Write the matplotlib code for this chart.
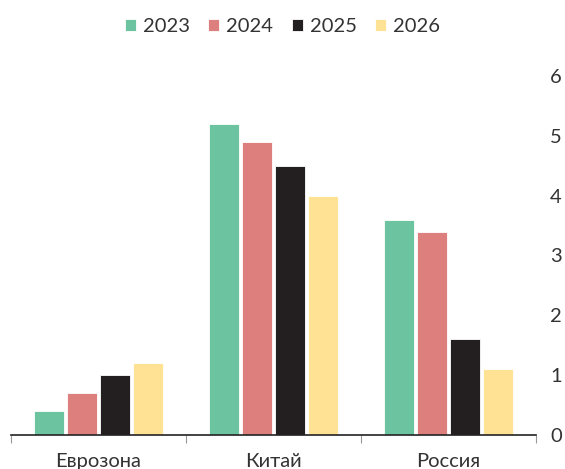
import matplotlib
matplotlib.use('Agg')
import matplotlib.pyplot as plt
import numpy as np

# Growth forecasts by region and year
regions = ['Еврозона', 'Китай', 'Россия']
years = ['2023', '2024', '2025', '2026']
values_2023 = [0.4, 5.2, 3.6]
values_2024 = [0.7, 4.9, 3.4]
values_2025 = [1.0, 4.5, 1.6]
values_2026 = [1.2, 4.0, 1.1]
yticks = [0, 1, 2, 3, 4, 5, 6]

colors = ['#6BC49F', '#DD7F7D', '#231F20', '#FFE294']
text_color = '#333333'

plt.rcParams['font.family'] = ['Lato', 'DejaVu Sans']

fig = plt.figure(figsize=(5.65, 4.69), dpi=100)
ax = fig.add_axes([0.0195, 0.0725, 0.9292, 0.7655])

series = [values_2023, values_2024, values_2025, values_2026]
x = np.arange(len(regions))
step = 33 / 175
width = 30 / 175
for i, (vals, year) in enumerate(zip(series, years)):
  offset = (i - 1.5) * step
  ax.bar(x + offset, vals, width, color=colors[i], label=year,
         edgecolor='white', linewidth=0.6)

ax.set_xlim(-0.5, len(regions) - 0.5)
ax.set_ylim(0, 6)

# Y axis on the right, no spines except the baseline
for side in ['top', 'left', 'right']:
  ax.spines[side].set_visible(False)
ax.spines['bottom'].set_color('#222222')
ax.spines['bottom'].set_linewidth(1.2)
ax.yaxis.tick_right()
ax.set_yticks(yticks)
ax.tick_params(axis='y', length=0, pad=10, labelsize=14.5, labelcolor=text_color)

ax.set_xticks(x)
ax.set_xticklabels(regions)
ax.tick_params(axis='x', which='major', length=0, pad=13, labelsize=14.5, labelcolor=text_color)
ax.set_xticks(np.arange(len(regions) + 1) - 0.5, minor=True)
ax.tick_params(axis='x', which='minor', length=6, width=0.8, color='#999999')

leg = fig.legend(loc='upper center', bbox_to_anchor=(0.5, 1.0), ncol=4, frameon=False,
                 fontsize=14.5, handlelength=0.55, handleheight=0.55, handletextpad=0.35,
                 columnspacing=0.9, labelcolor=text_color)

plt.savefig('out.png', dpi=100)
plt.close()
